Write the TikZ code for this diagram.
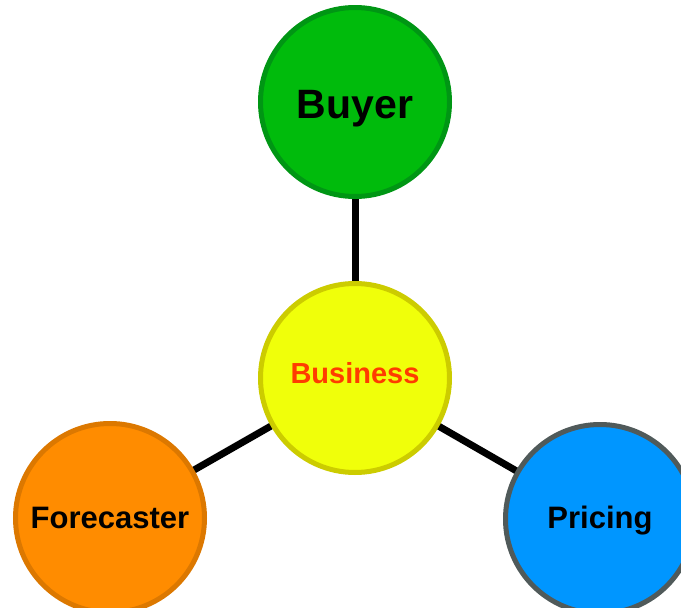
\documentclass[tikz,border=0pt]{standalone}
\usepackage{fontspec}
\setmainfont{Liberation Sans}
\definecolor{buyerfill}{RGB}{0,187,12}
\definecolor{buyerline}{RGB}{0,150,20}
\definecolor{busfill}{RGB}{240,255,10}
\definecolor{busline}{RGB}{204,204,0}
\definecolor{bustext}{RGB}{255,60,0}
\definecolor{forefill}{RGB}{255,140,0}
\definecolor{foreline}{RGB}{220,120,0}
\definecolor{pricefill}{RGB}{0,150,255}
\definecolor{priceline}{RGB}{80,90,90}
\tikzset{
  ball/.style={circle, minimum size=189pt, inner sep=0pt, line width=5pt, font=\bfseries, text depth=0pt},
  link/.style={line width=7pt, black}
}
\begin{document}
\begin{tikzpicture}[x=1pt,y=1pt]
\useasboundingbox (0,0) rectangle (681,-608);
\clip (0,0) rectangle (681,-608);
\coordinate (cb) at (355,-102);
\coordinate (cc) at (355,-378);
\coordinate (cf) at (110,-518);
\coordinate (cp) at (600,-519);
\draw[link] (cc) -- (cb);
\draw[link] (cc) -- (cf);
\draw[link] (cc) -- (cp);
\node[ball, fill=buyerfill, draw=buyerline, text height=32pt, font=\bfseries\fontsize{41}{45}\selectfont] (buyer) at (cb) {Buyer};
\node[ball, fill=busfill, draw=busline, text=bustext, text height=10pt, font=\bfseries\fontsize{29}{32}\selectfont] (business) at (cc) {Business};
\node[ball, fill=forefill, draw=foreline, text height=20pt, font=\bfseries\fontsize{31}{34}\selectfont] (forecaster) at (cf) {Forecaster};
\node[ball, fill=pricefill, draw=priceline, text height=18pt, font=\bfseries\fontsize{31}{34}\selectfont] (pricing) at (cp) {Pricing};
\end{tikzpicture}
\end{document}
